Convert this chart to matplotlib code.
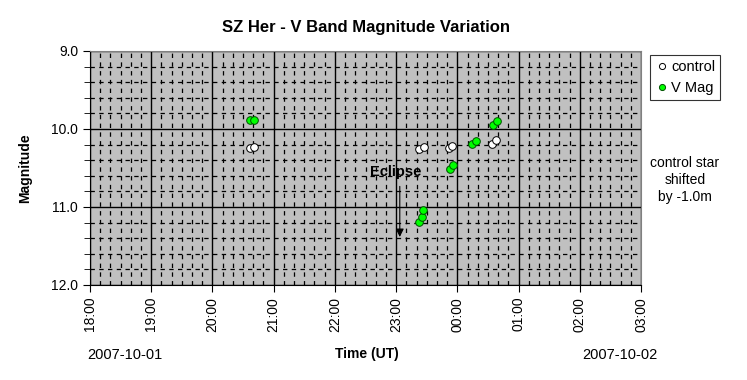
import matplotlib.pyplot as plt
import numpy as np
from matplotlib.ticker import MultipleLocator, FuncFormatter

# times in hours after 2007-10-01 00:00 UT
control_t = [20.61, 20.68, 23.37, 23.46, 23.86, 23.91, 24.57, 24.63]
control_mag = [10.24, 10.23, 10.26, 10.23, 10.24, 10.22, 10.19, 10.14]
vmag_t = [20.61, 20.68, 23.37, 23.42, 23.44, 23.88, 23.93, 24.24, 24.31, 24.58, 24.65]
vmag = [9.88, 9.88, 11.19, 11.13, 11.04, 10.51, 10.46, 10.19, 10.15, 9.95, 9.90]

plt.rcParams['font.family'] = ['Liberation Sans', 'DejaVu Sans']
plt.rcParams['font.size'] = 10

fig = plt.figure(figsize=(7.47, 3.80), dpi=100)
ax = fig.add_axes([90 / 747, 1 - 285 / 380, 551 / 747, 234 / 380])
ax.set_facecolor('#c0c0c0')

ax.plot(control_t, control_mag, 'o', ms=5.5, mfc='white', mec='black', mew=0.7,
        label='control', zorder=3)
ax.plot(vmag_t, vmag, 'o', ms=5.5, mfc='#00ff00', mec='#005000', mew=0.7,
        label='V Mag', zorder=3)

ax.set_xlim(18, 27)
ax.set_ylim(12, 9)
ax.xaxis.set_major_locator(MultipleLocator(1))
ax.xaxis.set_minor_locator(MultipleLocator(1 / 6))
ax.yaxis.set_major_locator(MultipleLocator(1))
ax.yaxis.set_minor_locator(MultipleLocator(0.2))
ax.xaxis.set_major_formatter(FuncFormatter(lambda v, p: '%02d:00' % (int(round(v)) % 24)))
ax.yaxis.set_major_formatter(FuncFormatter(lambda v, p: '%.1f' % v))
plt.setp(ax.get_xticklabels(), rotation=90)

ax.grid(which='major', color='black', lw=1, ls='-')
ax.grid(which='minor', color='black', lw=0.9, ls=(0, (3.5, 3.5)))
ax.set_axisbelow(True)
ax.tick_params(which='major', direction='out', length=5, color='black')
ax.tick_params(axis='x', which='minor', direction='in', length=3)
ax.tick_params(axis='y', which='minor', direction='out', length=4)
for s in ['top', 'right']:
    ax.spines[s].set_color('#808080')

ax.set_title('SZ Her - V Band Magnitude Variation', fontweight='bold', pad=14)
ax.set_ylabel('Magnitude', fontweight='bold', labelpad=14)
fig.text(367 / 747, 1 - 354 / 380, 'Time (UT)', fontweight='bold', ha='center', va='center')
fig.text(125 / 747, 1 - 355 / 380, '2007-10-01', ha='center', va='center', fontsize=10.5)
fig.text(620 / 747, 1 - 355 / 380, '2007-10-02', ha='center', va='center', fontsize=10.5)
fig.text(685 / 747, 1 - 180 / 380, 'control star\nshifted\nby -1.0m', ha='center',
         va='center', linespacing=1.3)

ax.annotate('', xy=(23.06, 11.42), xytext=(23.06, 10.7),
            arrowprops=dict(arrowstyle='-|>', color='black', lw=0.8, mutation_scale=12))
ax.text(23.0, 10.55, 'Eclipse', fontweight='bold', fontsize=10.5, ha='center', va='center')

leg = ax.legend(loc='upper left', bbox_to_anchor=((650 - 90) / 551, 0.983),
                borderaxespad=0, frameon=True, fancybox=False, edgecolor='black',
                handletextpad=0.1, handlelength=1, borderpad=0.35, labelspacing=0.45,
                markerscale=0.8, fontsize=10.5)
leg.get_frame().set_linewidth(0.8)

fig.savefig('out.png', dpi=100)
